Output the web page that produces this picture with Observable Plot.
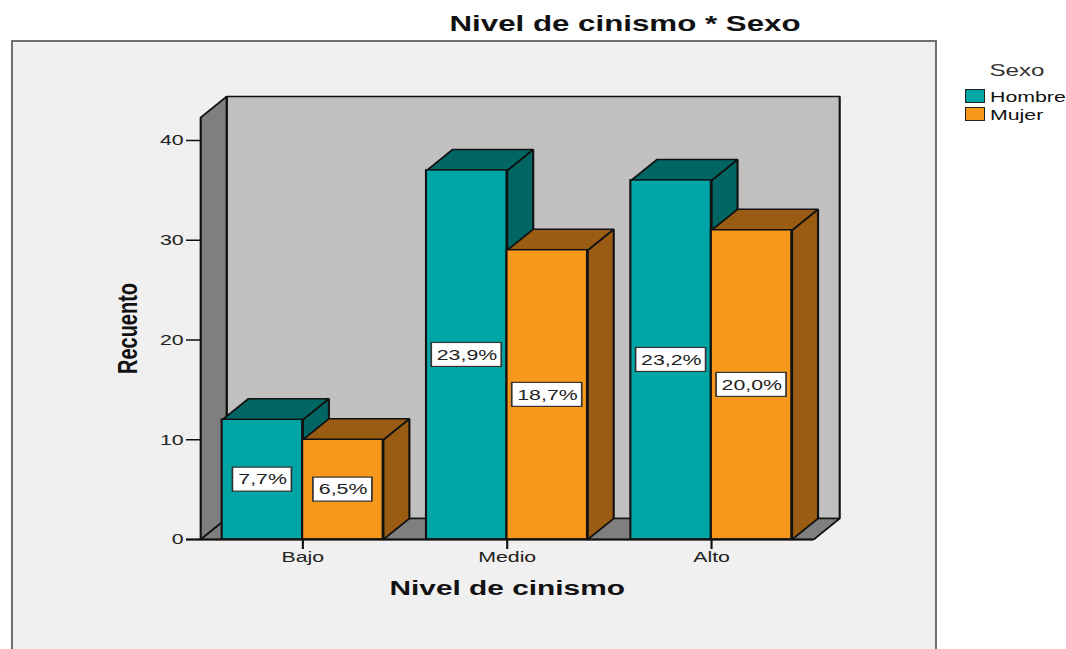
<!DOCTYPE html>
<html><head><meta charset="utf-8">
<script src="https://cdn.jsdelivr.net/npm/d3@7"></script>
<script src="https://cdn.jsdelivr.net/npm/@observablehq/plot@0.6"></script>
<style>
html,body{margin:0;padding:0;background:#fff;}
#wrap{position:relative;width:1066px;height:649px;overflow:hidden;font-family:"Liberation Sans",Arial,sans-serif;color:#111;}
#panel{position:absolute;left:11px;top:40px;width:922px;height:700px;background:#f0f0f0;border:2px solid #6e6e6e;box-sizing:content-box;}
.t{position:absolute;white-space:nowrap;line-height:1;}
.sw{position:absolute;box-sizing:border-box;border:1.5px solid #222;}
</style></head><body>
<div id="wrap">
  <div id="panel"></div>
  <div id="chart"></div>
</div>
<script>
// ---- data ----
const categories = ["Bajo", "Medio", "Alto"];
const series = ["Hombre", "Mujer"];
const hombre = [12, 37, 36];
const mujer = [10, 29, 31];
const pctHombre = ["7,7%", "23,9%", "23,2%"];
const pctMujer = ["6,5%", "18,7%", "20,0%"];
const yTicks = [0, 10, 20, 30, 40];
const titleText = "Nivel de cinismo * Sexo";
const xTitle = "Nivel de cinismo";
const yTitle = "Recuento";
const legendTitle = "Sexo";

// ---- styles / layout ----
const frontColor = {Hombre: "#00a6a6", Mujer: "#f7981d"};
const shadeColor = {Hombre: "#006663", Mujer: "#9a5b12"};
const S = 1066 / 750;            // horizontal stretch of the picture
const XPU = 613 / 3;             // final px per x unit
const YPU = 399 / 40;            // final px per y unit
const BW = 80.5 / XPU;           // bar width (x units)
const DXu = 26 / XPU, DYu = 21 / YPU;   // 3D depth
const YTOP = 422 / YPU;          // top of front left wall edge
const TICKX = 14 / XPU, TICKY = 10 / YPU;
const HH = 12 / YPU;

const vals = [hombre, mujer], pcts = [pctHombre, pctMujer];
const bars = [];
series.forEach((s, j) => categories.forEach((c, i) => {
  const x1 = j === 0 ? i + 0.5 - BW : i + 0.5;
  bars.push({cat: c, series: s, i, j, value: vals[j][i], pct: pcts[j][i], x1, x2: x1 + BW});
}));

const poly = (id, pts) => pts.map(([x, y]) => ({id, x, y}));
const sidePolys = b => poly(b.series + b.cat + "side",
  [[b.x2, 0], [b.x2 + DXu, DYu], [b.x2 + DXu, b.value + DYu], [b.x2, b.value], [b.x2, 0]]);
const topPolys = b => poly(b.series + b.cat + "top",
  [[b.x1, b.value], [b.x2, b.value], [b.x2 + DXu, b.value + DYu], [b.x1 + DXu, b.value + DYu], [b.x1, b.value]]);

const n = categories.length;
const backWall = poly("back", [[DXu, DYu], [n + DXu, DYu], [n + DXu, YTOP + DYu], [DXu, YTOP + DYu], [DXu, DYu]]);
const leftWall = poly("left", [[0, 0], [0, YTOP], [DXu, YTOP + DYu], [DXu, DYu], [0, 0]]);
const floor = poly("floor", [[0, 0], [n, 0], [n + DXu, DYu], [DXu, DYu], [0, 0]]);

const lineOpts = (fill) => ({x: "x", y: "y", z: "id", fill, stroke: "#111", strokeWidth: 1.5, strokeLinejoin: "miter"});

const marks = [
  Plot.line(backWall, lineOpts("#c0c0c0")),
  Plot.line(leftWall, lineOpts("#7f7f7f")),
  Plot.line(floor, lineOpts("#7f7f7f")),
];
series.forEach(s => {
  const bs = bars.filter(b => b.series === s);
  marks.push(Plot.line(bs.flatMap(sidePolys), lineOpts(shadeColor[s])));
  marks.push(Plot.line(bs.flatMap(topPolys), lineOpts(shadeColor[s])));
});
series.forEach(s => {
  marks.push(Plot.rect(bars.filter(b => b.series === s), {
    x1: "x1", x2: "x2", y1: 0, y2: "value", fill: frontColor[s], stroke: "#111", strokeWidth: 1.5
  }));
});
// axes
marks.push(
  Plot.ruleY(yTicks, {y: d => d, x1: -TICKX, x2: 0, stroke: "#111", strokeWidth: 1.5}),
  Plot.ruleY([0], {x1: -TICKX, x2: n, stroke: "#111", strokeWidth: 2}),
  Plot.ruleX(categories, {x: (d, i) => i + 0.5, y1: -TICKY, y2: 0, stroke: "#111", strokeWidth: 1.5}),
  Plot.text(yTicks, {x: 0, y: d => d, dx: -12, textAnchor: "end", text: d => String(d), fontSize: 15, fill: "#222"}),
  Plot.text(categories, {x: (d, i) => i + 0.5, y: 0, dy: 18, text: d => d, fontSize: 15, fill: "#222"}),
  Plot.text([xTitle], {x: n / 2, y: 0, dy: 49, text: d => d, fontSize: 21, fontWeight: "bold", fill: "#111"}),
  Plot.text([yTitle], {x: 0, y: (539 - 328) / YPU, dx: -51.4, rotate: -90, text: d => d, fontSize: 20, fontWeight: "bold", fill: "#111"})
);
// value labels
const boxHalf = b => (b.pct.length > 4 ? 70 : 59) / 2 / XPU;
marks.push(
  Plot.rect(bars, {
    x1: b => (b.x1 + b.x2) / 2 - boxHalf(b), x2: b => (b.x1 + b.x2) / 2 + boxHalf(b),
    y1: b => b.value / 2 - HH, y2: b => b.value / 2 + HH,
    fill: "white", stroke: "#333", strokeWidth: 1.2
  }),
  Plot.text(bars, {x: b => (b.x1 + b.x2) / 2, y: b => b.value / 2, text: "pct", fontSize: 15, fill: "#222"})
);

const W = 750;
const svg = Plot.plot({
  width: W, height: 649,
  marginLeft: 200 / S, marginRight: W - 813 / S, marginTop: 140, marginBottom: 110,
  x: {domain: [0, n], axis: null},
  y: {domain: [0, 40], axis: null},
  style: {background: "transparent", fontFamily: '"Liberation Sans", Arial, sans-serif', fontSize: "15px", overflow: "visible"},
  marks
});
svg.setAttribute("width", 1066);
svg.setAttribute("height", 649);
svg.setAttribute("preserveAspectRatio", "none");
Object.assign(svg.style, {position: "absolute", left: "0px", top: "0px", width: "1066px", height: "649px", maxWidth: "none"});
document.getElementById("chart").appendChild(svg);

// title and legend (HTML, stretched like the picture)
const wrap = document.getElementById("wrap");
function addText(txt, {cx, left, baseline, size, weight = "normal", color = "#111", anchor = "middle"}) {
  const d = document.createElement("div");
  d.className = "t";
  d.textContent = txt;
  d.style.fontSize = size + "px";
  d.style.fontWeight = weight;
  d.style.color = color;
  d.style.top = (baseline - 0.8465 * size) + "px";
  if (anchor === "middle") {
    d.style.left = (cx - 300) + "px";
    d.style.width = "600px";
    d.style.textAlign = "center";
    d.style.transformOrigin = "50% 0";
  } else {
    d.style.left = left + "px";
    d.style.transformOrigin = "0 0";
  }
  d.style.transform = `scaleX(${S})`;
  wrap.appendChild(d);
}
addText(titleText, {cx: 625, baseline: 32, size: 22, weight: "bold"});
addText(legendTitle, {cx: 1017, baseline: 76, size: 17, color: "#333"});
series.forEach((s, k) => {
  const sw = document.createElement("div");
  sw.className = "sw";
  Object.assign(sw.style, {left: "965px", top: (89 + 17.5 * k) + "px", width: "20px", height: "14px", background: frontColor[s]});
  wrap.appendChild(sw);
  addText(s, {left: 990, baseline: 102 + 17.5 * k, size: 15, anchor: "start", color: "#111"});
});
</script>
</body></html>
